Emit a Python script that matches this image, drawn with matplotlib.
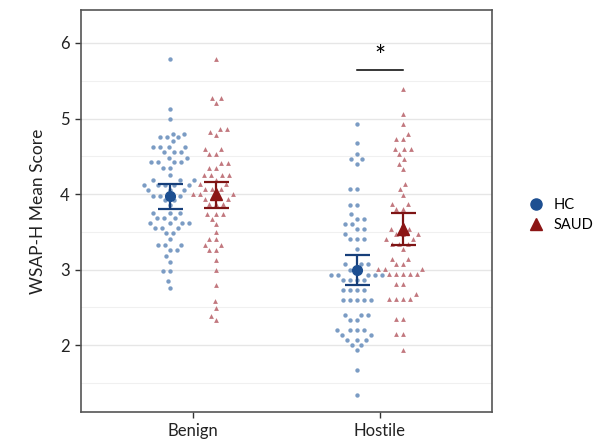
import numpy as np
import matplotlib
matplotlib.use("Agg")
import matplotlib.pyplot as plt
from matplotlib.lines import Line2D

plt.rcParams['font.family'] = ['Lato', 'DejaVu Sans']

# ---------------- data ----------------
conditions = ["Benign", "Hostile"]
groups = ["HC", "SAUD"]

benign_hc = ([5.79, 5.13, 5.00] + [4.80]*2 + [4.75]*3 + [4.70] + [4.62]*4 + [4.55]*3 +
             [4.48]*2 + [4.42]*4 + [4.35]*2 + [4.25] + [4.18]*3 + [4.12]*5 + [4.05]*3 +
             [3.98]*3 + [3.92]*2 + [3.85] + [3.75]*3 + [3.68]*3 + [3.62]*4 + [3.55]*3 +
             [3.48]*2 + [3.40] + [3.33]*3 + [3.26]*2 + [3.18] + [3.10] + [2.98]*2 + [2.85] + [2.76])
benign_saud = ([5.79] + [5.27]*2 + [5.20] + [4.86]*2 + [4.82] + [4.78] + [4.60]*2 + [4.53]*2 +
               [4.41]*2 + [4.34]*2 + [4.25]*4 + [4.19] + [4.13]*2 + [4.07]*3 + [4.00]*4 +
               [3.94]*2 + [3.87]*3 + [3.74]*3 + [3.67] + [3.60] + [3.50] + [3.40]*2 + [3.33]*2 +
               [3.26]*2 + [3.13] + [3.00] + [2.80] + [2.58] + [2.49] + [2.38] + [2.33])
hostile_hc = ([4.93, 4.67, 4.53] + [4.46]*2 + [4.40] + [4.06]*2 + [3.86]*2 + [3.73] + [3.67]*2 +
              [3.60]*2 + [3.53]*2 + [3.47] + [3.40]*3 + [3.27] + [3.07]*3 + [3.00]*2 + [2.93]*5 +
              [2.86]*4 + [2.73]*4 + [2.60]*5 + [2.40]*3 + [2.33]*2 + [2.20]*4 + [2.13]*2 +
              [2.07]*3 + [2.00]*2 + [1.93] + [1.67] + [1.34])
hostile_saud = ([5.39, 5.06, 4.93, 4.80] + [4.73]*2 + [4.60]*3 + [4.53] + [4.46] + [4.40] + [4.33] +
                [4.13] + [4.07] + [3.99] + [3.87]*2 + [3.80]*2 + [3.60] + [3.53]*2 + [3.47]*3 +
                [3.40]*2 + [3.34]*3 + [3.27] + [3.14]*2 + [3.07]*2 + [3.01]*3 + [2.94]*5 +
                [2.81]*2 + [2.67] + [2.61]*4 + [2.34]*2 + [2.14]*2 + [1.94])

raw = {("Benign", "HC"): benign_hc, ("Benign", "SAUD"): benign_saud,
       ("Hostile", "HC"): hostile_hc, ("Hostile", "SAUD"): hostile_saud}

means = {("Benign", "HC"): 3.97, ("Benign", "SAUD"): 4.00,
         ("Hostile", "HC"): 3.00, ("Hostile", "SAUD"): 3.54}
err_low = {("Benign", "HC"): 3.80, ("Benign", "SAUD"): 3.82,
           ("Hostile", "HC"): 2.80, ("Hostile", "SAUD"): 3.32}
err_high = {("Benign", "HC"): 4.13, ("Benign", "SAUD"): 4.16,
            ("Hostile", "HC"): 3.19, ("Hostile", "SAUD"): 3.75}

sig_label = "*"
sig_y = 5.64

# ---------------- style ----------------
dot_colors = {"HC": "#7b9cc4", "SAUD": "#c2787f"}
mean_colors = {"HC": "#1d4f91", "SAUD": "#8c1515"}
bar_colors = {"HC": "#173f7a", "SAUD": "#7e1414"}
markers = {"HC": "o", "SAUD": "^"}
dodge = {"HC": -0.125, "SAUD": 0.125}

W, H, DPI = 601, 445, 100
fig = plt.figure(figsize=(W / DPI, H / DPI), dpi=DPI)
ax = fig.add_axes([81 / W, (H - 412) / H, (492 - 81) / W, (412 - 10) / H])
ax.set_xlim(0.4, 2.6)
ax.set_ylim(1.113, 6.437)

# pixel scales
px_per_x = (492 - 81) / 2.2
px_per_y = (412 - 10) / (6.437 - 1.113)


def swarm(values, d=7.0):
    """simple beeswarm: returns x offsets (pixels)"""
    vals = np.asarray(values, float)
    order = np.argsort(vals)
    ys = vals * px_per_y
    placed = []
    offs = np.zeros(len(vals))
    for i in order:
        y = ys[i]
        cands = [0.0]
        near = [(px, py) for px, py in placed if abs(py - y) < d]
        for px, py in near:
            dx = np.sqrt(d * d - (py - y) ** 2)
            cands += [px + dx, px - dx]
        cands = sorted(cands, key=lambda c: (abs(c), c))
        for c in cands:
            if all((c - px) ** 2 + (y - py) ** 2 >= d * d - 1e-6 for px, py in near):
                offs[i] = c
                placed.append((c, y))
                break
    return offs


for ci, cond in enumerate(conditions):
    for g in groups:
        vals = np.asarray(raw[(cond, g)])
        xc = ci + 1 + dodge[g]
        offs = swarm(vals) / px_per_x
        ax.scatter(xc + offs, vals, s=10 if g == "HC" else 12, marker=markers[g],
                   color=dot_colors[g], linewidths=0, zorder=3)
        m = means[(cond, g)]
        ax.errorbar([xc], [m], yerr=[[m - err_low[(cond, g)]], [err_high[(cond, g)] - m]],
                    fmt="none", ecolor=bar_colors[g], elinewidth=1.6, capsize=9,
                    capthick=1.6, zorder=4)
        ax.plot([xc], [m], marker=markers[g], color=mean_colors[g],
                markersize=7 if g == "HC" else 8, linestyle="none", zorder=5)

# significance
x1, x2 = 2 + dodge["HC"], 2 + dodge["SAUD"]
ax.plot([x1, x2], [sig_y, sig_y], color="black", lw=1.1, zorder=5)
ax.text(2, sig_y + 0.0, sig_label, ha="center", va="bottom", fontsize=19, zorder=5)

# grid & axes
ax.set_yticks([2, 3, 4, 5, 6])
ax.set_yticks([1.5, 2.5, 3.5, 4.5, 5.5], minor=True)
ax.yaxis.grid(True, which="major", color="#e6e6e6", lw=1.0)
ax.yaxis.grid(True, which="minor", color="#f0f0f0", lw=0.8)
ax.xaxis.grid(False)
ax.set_axisbelow(True)
ax.tick_params(axis="y", which="minor", length=0)
ax.set_xticks([1, 2])
ax.set_xticklabels(conditions)
ax.tick_params(axis="both", which="major", length=4, width=1, color="#333333",
               labelsize=12, labelcolor="#222222", pad=4)
for s in ax.spines.values():
    s.set_color("#555555")
    s.set_linewidth(1.2)
ax.set_ylabel("WSAP-H Mean Score", fontsize=12.5, color="#222222", labelpad=10)

# legend
handles = [Line2D([], [], marker=markers[g], color=mean_colors[g], linestyle="none",
                  markersize=8 if g == "HC" else 9) for g in groups]
fig.legend(handles, groups, loc="center left", bbox_to_anchor=(517 / W, 1 - 215 / H),
           frameon=False, fontsize=10.5, handletextpad=0.6, labelspacing=0.45,
           handlelength=1.2, borderpad=0.2)

fig.savefig("out.png", dpi=DPI)
